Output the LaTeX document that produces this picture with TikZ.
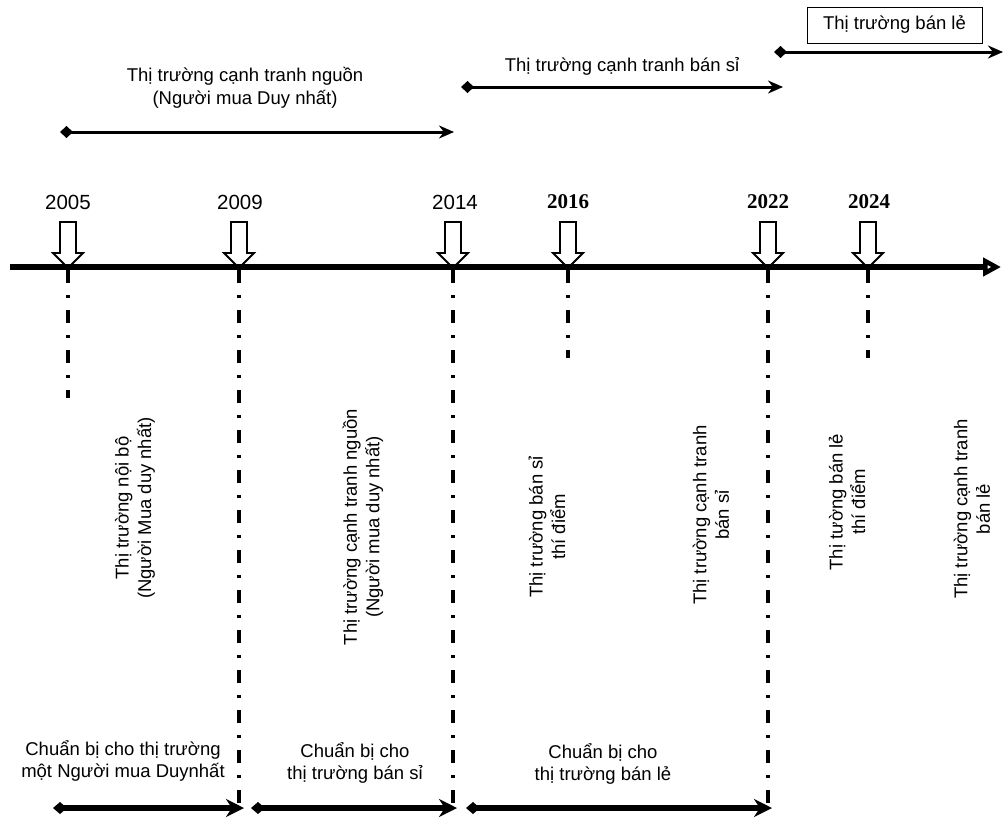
\documentclass[tikz,border=0pt]{standalone}
\usepackage{fontspec}
\setmainfont{Liberation Sans}
\newfontfamily\yrserif{Liberation Serif}
\usetikzlibrary{arrows.meta}
\begin{document}
\begin{tikzpicture}[x=1pt,y=-1pt,
  lbl/.style={font=\fontsize{18.5}{22.5}\selectfont, align=center, inner sep=0pt},
  rlbl/.style={lbl, rotate=90},
  yrsans/.style={font=\fontsize{20.5}{22}\selectfont, inner sep=0pt},
  yrbold/.style={font=\yrserif\bfseries\fontsize{21}{22}\selectfont, inner sep=0pt},
  toparrow/.style={line width=3pt, {Diamond[length=13pt,width=12pt]}-{Stealth[length=15pt,width=13pt]}},
  botarrow/.style={line width=6pt, {Diamond[open,length=14pt,width=12pt]}-{Stealth[length=18pt,width=18pt]}},
  axisline/.style={line width=6pt, -{Triangle[open,length=18pt,width=18pt]}},
  dashdot/.style={line width=4pt, dash pattern=on 13pt off 12pt on 3pt off 12pt},
  marker/.style={draw, fill=white, line width=1.8pt, line join=miter}
]
\useasboundingbox (0,0) rectangle (1003,819);

% ---- top labels and arrows
\node[lbl] (t1) at (245,88) {Thị trường cạnh tranh nguồn\\(Người mua Duy nhất)};
\coordinate (a1s) at (60,132);
\coordinate (a1e) at (454,132);
\draw[toparrow] (a1s) -- (a1e);

\node[lbl] (t2) at (622,66) {Thị trường cạnh tranh bán sỉ};
\coordinate (a2s) at (461,87);
\coordinate (a2e) at (783,87);
\draw[toparrow] (a2s) -- (a2e);

\node[lbl, draw, line width=1pt, minimum width=175pt, minimum height=36pt] (t3) at (894.5,25) {Thị trường bán lẻ};
\coordinate (a3s) at (774,52);
\coordinate (a3e) at (1003,52);
\draw[toparrow] (a3s) -- (a3e);

% ---- years
\node[yrsans] (y2005) at (68,202) {2005};
\node[yrsans] (y2009) at (240,202) {2009};
\node[yrsans] (y2014) at (455,202) {2014};
\node[yrbold] (y2016) at (568,202) {2016};
\node[yrbold] (y2022) at (768,202) {2022};
\node[yrbold] (y2024) at (869,202) {2024};

% ---- year markers (hollow down arrows)
\foreach \xx in {68,239,453,568,768,868}{
  \path[marker] (\xx-8,222) -- (\xx+8,222) -- (\xx+8,253) -- (\xx+15,253) -- (\xx,268)
     -- (\xx-15,253) -- (\xx-8,253) -- cycle;
}

% ---- main axis
\coordinate (axL) at (10,267);
\coordinate (axR) at (1001,267);
\draw[axisline] (axL) -- (axR);

% ---- dash-dot lines
\coordinate (d1s) at (68,270);  \coordinate (d1e) at (68,398);
\coordinate (d2s) at (239,270); \coordinate (d2e) at (239,805);
\coordinate (d3s) at (453,270); \coordinate (d3e) at (453,805);
\coordinate (d4s) at (568,270); \coordinate (d4e) at (568,358);
\coordinate (d5s) at (768,270); \coordinate (d5e) at (768,805);
\coordinate (d6s) at (868,270); \coordinate (d6e) at (868,358);
\foreach \i in {1,...,6}{ \draw[dashdot] (d\i s) -- (d\i e); }

% ---- rotated labels
\node[rlbl] (r1) at (135,508) {Thị trường nội bộ\\(Người Mua duy nhất)};
\node[rlbl] (r2) at (363,527) {Thị trường cạnh tranh nguồn\\(Người mua duy nhất)};
\node[rlbl] (r3) at (547,527) {Thị trường bán sỉ\\thí điểm};
\node[rlbl] (r4) at (711,515) {Thị trường cạnh tranh\\bán sỉ};
\node[rlbl] (r5) at (847,502) {Thị tường bán lẻ\\thí điểm};
\node[rlbl] (r6) at (972,509) {Thị trường cạnh tranh\\bán lẻ};

% ---- bottom labels and arrows
\node[lbl] (b1) at (123,761) {Chuẩn bị cho thị trường\\một Người mua Duynhất};
\node[lbl] (b2) at (355,763) {Chuẩn bị cho\\thị trường bán sỉ};
\node[lbl] (b3) at (603,764) {Chuẩn bị cho\\thị trường bán lẻ};

\coordinate (c1s) at (53,808);  \coordinate (c1e) at (244,808);
\coordinate (c2s) at (251,808); \coordinate (c2e) at (457,808);
\coordinate (c3s) at (466,808); \coordinate (c3e) at (772,808);
\draw[botarrow] (c1s) -- (c1e);
\draw[botarrow] (c2s) -- (c2e);
\draw[botarrow] (c3s) -- (c3e);
\end{tikzpicture}
\end{document}
